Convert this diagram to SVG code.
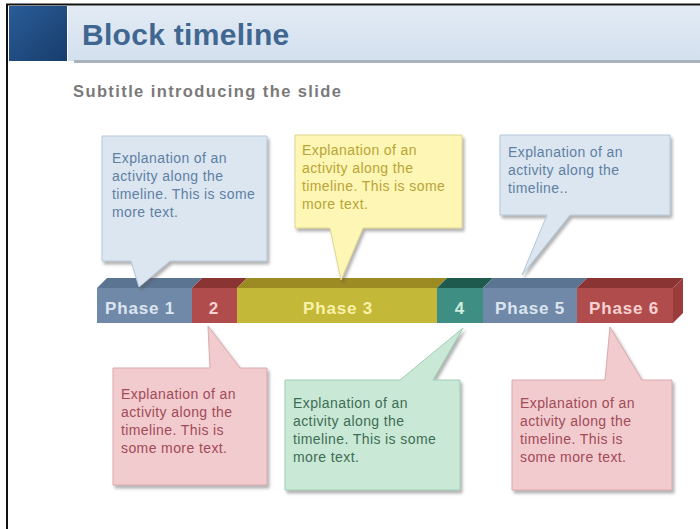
<svg xmlns="http://www.w3.org/2000/svg" width="700" height="529" viewBox="0 0 700 529">
  <defs>
    <linearGradient id="hdr" x1="0" y1="0" x2="0" y2="1">
      <stop offset="0" stop-color="#e2ebf5"/>
      <stop offset="1" stop-color="#d3e0ee"/>
    </linearGradient>
    <linearGradient id="sq" x1="0" y1="0" x2="1" y2="1">
      <stop offset="0" stop-color="#2a5c98"/>
      <stop offset="1" stop-color="#173d6c"/>
    </linearGradient>
    <filter id="shadow" x="-10%" y="-10%" width="125%" height="130%">
      <feDropShadow dx="2" dy="3" stdDeviation="1.6" flood-color="#555" flood-opacity="0.45"/>
    </filter>
  </defs>
  <style>
    .title { font-family: "Liberation Sans", Arial, sans-serif; font-weight: bold; font-size: 30px; fill: #3f6790; letter-spacing: 0.3px; }
    .subtitle { font-family: "Liberation Sans", Arial, sans-serif; font-weight: bold; font-size: 16.5px; fill: #7a7a7a; letter-spacing: 1.4px; }
    .note { font-family: "Liberation Sans", Arial, sans-serif; font-size: 14px; letter-spacing: 0.4px; }
    .phase { font-family: "Liberation Sans", Arial, sans-serif; font-weight: bold; font-size: 17px; text-anchor: middle; letter-spacing: 0.8px; }
    .callout { filter: url(#shadow); stroke-width: 1; }
    .blue { fill: #dbe6f1; stroke: #b6c7da; }
    .yellow { fill: #fdf6b4; stroke: #e2d690; }
    .pink { fill: #f2cbce; stroke: #d9a9ae; }
    .green { fill: #c9e9d6; stroke: #9fcdb2; }
    .t-blue { fill: #5f7fa2; }
    .t-yellow { fill: #b9a437; }
    .t-pink { fill: #a14a58; }
    .t-green { fill: #3f6c55; }
  </style>

  <rect width="700" height="529" fill="#ffffff"/>
  <!-- frame edges -->
  <line x1="7" y1="4" x2="7" y2="529" stroke="#111" stroke-width="2"/>
  <line x1="6" y1="4.5" x2="700" y2="4.5" stroke="#111" stroke-width="2"/>

  <!-- header -->
  <rect x="9" y="6" width="58" height="55" fill="url(#sq)"/>
  <rect x="68" y="6" width="632" height="55" fill="url(#hdr)"/>
  <rect x="74" y="60" width="626" height="3" fill="#aab3bd"/>
  <text class="title" x="82" y="45">Block timeline</text>
  <text class="subtitle" x="73" y="97">Subtitle introducing the slide</text>

  <!-- timeline bar -->
  <g id="timeline">
    <g id="phase1">
      <polygon points="97,288 107,278 202,278 192,288" fill="#5b7492"/>
      <rect x="97" y="288" width="95" height="35" fill="#7189a8"/>
      <text class="phase" x="140" y="314" fill="#dbe5f0">Phase 1</text>
    </g>
    <g id="phase2">
      <polygon points="192,288 202,278 247,278 237,288" fill="#8a3434"/>
      <rect x="192" y="288" width="45" height="35" fill="#b14c4c"/>
      <text class="phase" x="214" y="314" fill="#f5d2d2">2</text>
    </g>
    <g id="phase3">
      <polygon points="237,288 247,278 447,278 437,288" fill="#9c8a22"/>
      <rect x="237" y="288" width="200" height="35" fill="#c3b838"/>
      <text class="phase" x="338" y="314" fill="#f7f2a8">Phase 3</text>
    </g>
    <g id="phase4">
      <polygon points="437,288 447,278 493,278 483,288" fill="#1f5a4f"/>
      <rect x="437" y="288" width="46" height="35" fill="#3f8e84"/>
      <text class="phase" x="460" y="314" fill="#cdeedc">4</text>
    </g>
    <g id="phase5">
      <polygon points="483,288 493,278 587,278 577,288" fill="#5b7492"/>
      <rect x="483" y="288" width="94" height="35" fill="#7189a8"/>
      <text class="phase" x="530" y="314" fill="#dbe5f0">Phase 5</text>
    </g>
    <g id="phase6">
      <polygon points="577,288 587,278 683,278 673,288" fill="#8a3434"/>
      <polygon points="673,288 683,278 683,313 673,323" fill="#9a3c3c"/>
      <rect x="577" y="288" width="96" height="35" fill="#b14c4c"/>
      <text class="phase" x="624" y="314" fill="#f5d2d2">Phase 6</text>
    </g>
  </g>

  <!-- callouts above the bar -->
  <g id="note1">
    <path class="callout blue" d="M102,136 H267 V261 H170 L139,287 L131,261 H102 Z"/>
    <text class="note t-blue"><tspan x="112" y="163">Explanation of an</tspan><tspan x="112" y="181">activity along the</tspan><tspan x="112" y="199">timeline. This is some</tspan><tspan x="112" y="217">more text.</tspan></text>
  </g>
  <g id="note2">
    <path class="callout yellow" d="M295,135 H462 V228 H363 L341,280 L330,228 H295 Z"/>
    <text class="note t-yellow"><tspan x="302" y="155">Explanation of an</tspan><tspan x="302" y="173">activity along the</tspan><tspan x="302" y="191">timeline. This is some</tspan><tspan x="302" y="209">more text.</tspan></text>
  </g>
  <g id="note3">
    <path class="callout blue" d="M500,135 H670 V215 H570 L522,275 L547,215 H500 Z"/>
    <text class="note t-blue"><tspan x="508" y="157">Explanation of an</tspan><tspan x="508" y="175">activity along the</tspan><tspan x="508" y="193">timeline..</tspan></text>
  </g>

  <!-- callouts below the bar -->
  <g id="note4">
    <path class="callout pink" d="M113,368 H210 L208,326 L240,368 H267 V485 H113 Z"/>
    <text class="note t-pink"><tspan x="121" y="399">Explanation of an</tspan><tspan x="121" y="417">activity along the</tspan><tspan x="121" y="435">timeline. This is</tspan><tspan x="121" y="453">some more text.</tspan></text>
  </g>
  <g id="note5">
    <path class="callout green" d="M285,380 H400 L463,328 L433,380 H460 V490 H285 Z"/>
    <text class="note t-green"><tspan x="293" y="408">Explanation of an</tspan><tspan x="293" y="426">activity along the</tspan><tspan x="293" y="444">timeline. This is some</tspan><tspan x="293" y="462">more text.</tspan></text>
  </g>
  <g id="note6">
    <path class="callout pink" d="M512,380 H605 L610,327 L642,380 H672 V490 H512 Z"/>
    <text class="note t-pink"><tspan x="520" y="408">Explanation of an</tspan><tspan x="520" y="426">activity along the</tspan><tspan x="520" y="444">timeline. This is</tspan><tspan x="520" y="462">some more text.</tspan></text>
  </g>
</svg>
